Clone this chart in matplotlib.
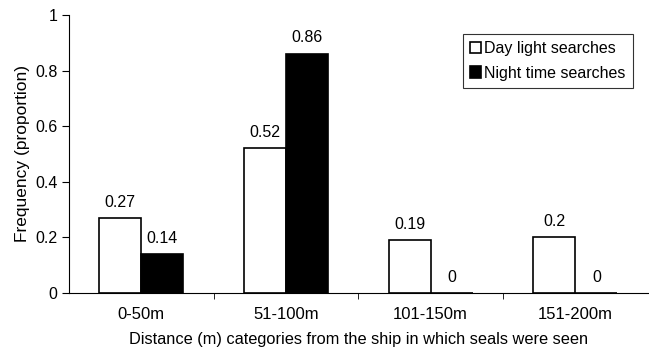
import numpy as np
import matplotlib.pyplot as plt

plt.rcParams['font.family'] = ['Liberation Sans', 'DejaVu Sans']

# Data
categories = ['0-50m', '51-100m', '101-150m', '151-200m']
day = [0.27, 0.52, 0.19, 0.2]
night = [0.14, 0.86, 0, 0]
day_labels = ['0.27', '0.52', '0.19', '0.2']
night_labels = ['0.14', '0.86', '0', '0']

fig = plt.figure(figsize=(6.49, 3.54), dpi=100)
ax = fig.add_axes([0.106, 0.172, 0.892, 0.786])

x = np.arange(len(categories))
w = 0.29
ax.bar(x - w/2, day, w, color='white', edgecolor='black', linewidth=1.2,
       label='Day light searches')
ax.bar(x + w/2, night, w, color='black', edgecolor='black', linewidth=1.2,
       label='Night time searches')

for xi, v, s in zip(x - w/2, day, day_labels):
    ax.annotate(s, (xi, v), xytext=(0, 6), textcoords='offset points',
                ha='center', va='bottom', fontsize=11.5)
for xi, v, s in zip(x + w/2, night, night_labels):
    ax.annotate(s, (xi, v), xytext=(0, 6), textcoords='offset points',
                ha='center', va='bottom', fontsize=11.5)

ax.set_xlim(-0.5, 3.5)
ax.set_ylim(0, 1)
ax.set_yticks([0, 0.2, 0.4, 0.6, 0.8, 1.0])
ax.set_yticklabels(['0', '0.2', '0.4', '0.6', '0.8', '1'])
ax.set_xticks(x)
ax.set_xticklabels(categories)
ax.tick_params(axis='x', which='major', length=0, pad=10, labelsize=12)
ax.set_xticks([0.5, 1.5, 2.5], minor=True)
ax.tick_params(axis='x', which='minor', length=4, direction='out')
ax.tick_params(axis='y', length=5, direction='out', labelsize=11.5, pad=3)

for side in ['top', 'right']:
    ax.spines[side].set_visible(False)
ax.spines['left'].set_linewidth(0.8)
ax.spines['bottom'].set_linewidth(0.8)

ax.set_ylabel('Frequency (proportion)', fontsize=12.5, labelpad=4)
ax.set_xlabel('Distance (m) categories from the ship in which seals were seen',
              fontsize=11.8, labelpad=7)

leg = ax.legend(loc='upper right', bbox_to_anchor=(0.974, 0.932), fontsize=11.5,
                frameon=True, fancybox=False, edgecolor='black',
                handlelength=0.7, handleheight=0.7, handletextpad=0.2,
                borderpad=0.45, labelspacing=0.6, borderaxespad=0)
leg.get_frame().set_linewidth(0.8)

fig.savefig('out.png', dpi=100)
